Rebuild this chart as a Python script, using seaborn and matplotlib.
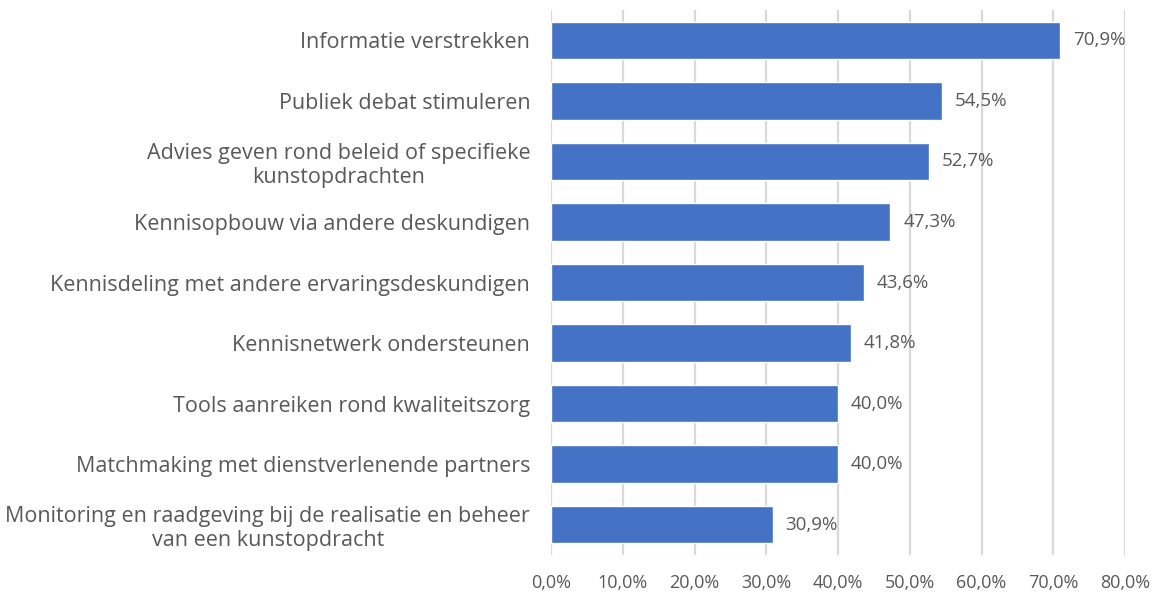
import matplotlib
matplotlib.use('Agg')
import matplotlib.pyplot as plt
import seaborn as sns
import pandas as pd
from matplotlib.ticker import FuncFormatter

# --- data ---
categorieen = [
    'Informatie verstrekken',
    'Publiek debat stimuleren',
    'Advies geven rond beleid of specifieke\nkunstopdrachten',
    'Kennisopbouw via andere deskundigen',
    'Kennisdeling met andere ervaringsdeskundigen',
    'Kennisnetwerk ondersteunen',
    'Tools aanreiken rond kwaliteitszorg',
    'Matchmaking met dienstverlenende partners',
    'Monitoring en raadgeving bij de realisatie en beheer\nvan een kunstopdracht',
]
percentages = [70.9, 54.5, 52.7, 47.3, 43.6, 41.8, 40.0, 40.0, 30.9]
x_ticks = [0, 10, 20, 30, 40, 50, 60, 70, 80]

df = pd.DataFrame({'categorie': categorieen, 'pct': percentages})

sns.set_style('white')
plt.rcParams['font.family'] = ['Open Sans', 'DejaVu Sans']
tekst = '#595959'

fig = plt.figure(figsize=(11.59, 5.96), dpi=100)
ax = fig.add_axes([0.4754, 0.0688, 0.4953, 0.9144])

sns.barplot(data=df, x='pct', y='categorie', color='#4472C4', saturation=1,
            width=0.62, ax=ax, zorder=3)

# labels met komma als decimaalteken
for p, v in zip(ax.patches, percentages):
    ax.text(p.get_width() + 1.8, p.get_y() + p.get_height() / 2,
            f'{v:.1f}%'.replace('.', ','), va='center', ha='left',
            fontsize=13.5, color=tekst)

ax.set_xlim(0, 80)
ax.set_ylim(8.5, -0.5)
ax.set_xticks(x_ticks)
ax.xaxis.set_major_formatter(FuncFormatter(lambda v, pos: f'{v:.1f}%'.replace('.', ',')))
ax.grid(axis='x', color='#D9D9D9', linewidth=1.6, zorder=0)
ax.tick_params(axis='both', length=0, colors=tekst)
ax.tick_params(axis='x', pad=14, labelsize=13)
ax.tick_params(axis='y', pad=15, labelsize=15.5)
for lbl in ax.get_yticklabels():
    lbl.set_multialignment('center')
ax.set_xlabel('')
ax.set_ylabel('')
for s in ax.spines.values():
    s.set_visible(False)

fig.savefig('out.png', dpi=100)
